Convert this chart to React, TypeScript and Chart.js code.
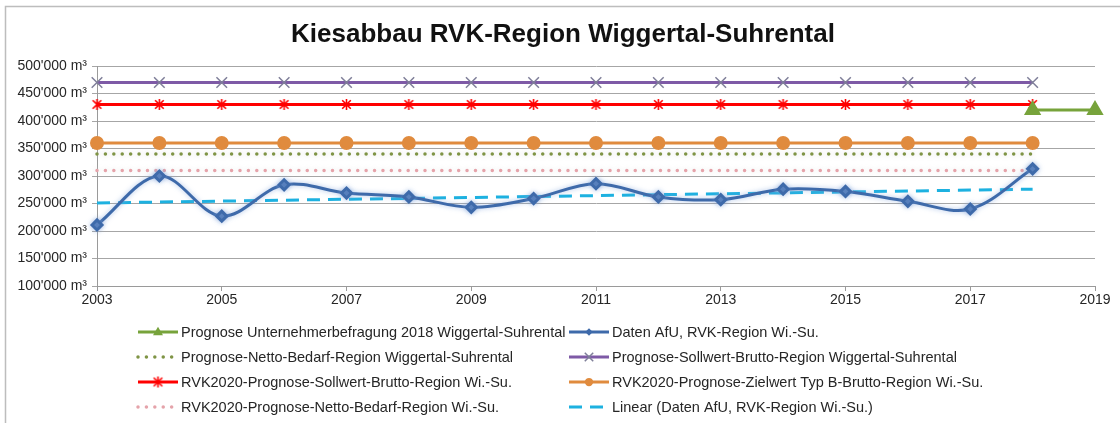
import React, { useEffect, useRef } from 'react';
import { Chart, registerables } from 'chart.js';

Chart.register(...registerables);

// ---------- data ----------
const years = [2003, 2004, 2005, 2006, 2007, 2008, 2009, 2010, 2011, 2012, 2013, 2014, 2015, 2016, 2017, 2018];
const datenAfU = [211000, 300000, 227000, 284000, 269000, 262000, 243000, 259000, 286000, 262000, 257000, 276000, 272000, 254000, 240000, 313000];
const sollwertBruttoWS = [470000, 470000, 470000, 470000, 470000, 470000, 470000, 470000, 470000, 470000, 470000, 470000, 470000, 470000, 470000, 470000];
const rvkSollwertBrutto = [430000, 430000, 430000, 430000, 430000, 430000, 430000, 430000, 430000, 430000, 430000, 430000, 430000, 430000, 430000, 430000];
const rvkZielwertTypB = [360000, 360000, 360000, 360000, 360000, 360000, 360000, 360000, 360000, 360000, 360000, 360000, 360000, 360000, 360000, 360000];
const nettoBedarfWS = [340000, 340000, 340000, 340000, 340000, 340000, 340000, 340000, 340000, 340000, 340000, 340000, 340000, 340000, 340000, 340000];
const rvkNettoBedarf = [310000, 310000, 310000, 310000, 310000, 310000, 310000, 310000, 310000, 310000, 310000, 310000, 310000, 310000, 310000, 310000];
const umfrageYears = [2018, 2019];
const umfrageValues = [420000, 420000];
const trendYears = [2003, 2018];
const trendValues = [251000, 276000];
const xTickYears = [2003, 2005, 2007, 2009, 2011, 2013, 2015, 2017, 2019];

const TITLE = 'Kiesabbau RVK-Region Wiggertal-Suhrental';
const FONT = "'Liberation Sans', Arial, sans-serif";

const C_GREEN = '#77A33B';
const C_BLUE = '#3E6AAA';
const C_OLIVE = '#7F9445';
const C_PURPLE = '#7E5AA6';
const C_RED = '#FF0000';
const C_ORANGE = '#E08B3E';
const C_PINK = '#E5A3AA';
const C_CYAN = '#1DB1E0';

function pts(xs: number[], ys: number[]) {
  return xs.map((x, i) => ({ x, y: ys[i] }));
}

function makeAsterisk(color: string, size: number) {
  const c = document.createElement('canvas');
  c.width = size;
  c.height = size;
  const g = c.getContext('2d')!;
  const m = size / 2;
  const r = size / 2 - 1;
  g.strokeStyle = color;
  g.lineWidth = 1.6;
  g.beginPath();
  g.moveTo(m, m - r);
  g.lineTo(m, m + r);
  const d = r * 0.78;
  g.moveTo(m - d, m - d);
  g.lineTo(m + d, m + d);
  g.moveTo(m - d, m + d);
  g.lineTo(m + d, m - d);
  g.stroke();
  return c;
}

function drawMarker(ctx: CanvasRenderingContext2D, style: any, x: number, y: number, r: number, fill: string, stroke: string) {
  ctx.save();
  ctx.fillStyle = fill;
  ctx.strokeStyle = stroke;
  ctx.lineWidth = 1.5;
  ctx.setLineDash([]);
  if (style instanceof HTMLCanvasElement) {
    ctx.drawImage(style, x - style.width / 2, y - style.height / 2);
  } else if (style === 'triangle') {
    ctx.beginPath();
    ctx.moveTo(x, y - r);
    ctx.lineTo(x + r * 0.95, y + r * 0.6);
    ctx.lineTo(x - r * 0.95, y + r * 0.6);
    ctx.closePath();
    ctx.fill();
  } else if (style === 'rectRot') {
    ctx.beginPath();
    ctx.moveTo(x, y - r);
    ctx.lineTo(x + r, y);
    ctx.lineTo(x, y + r);
    ctx.lineTo(x - r, y);
    ctx.closePath();
    ctx.fill();
  } else if (style === 'crossRot') {
    ctx.beginPath();
    ctx.moveTo(x - r * 0.75, y - r * 0.75);
    ctx.lineTo(x + r * 0.75, y + r * 0.75);
    ctx.moveTo(x - r * 0.75, y + r * 0.75);
    ctx.lineTo(x + r * 0.75, y - r * 0.75);
    ctx.stroke();
  } else if (style === 'circle') {
    ctx.beginPath();
    ctx.arc(x, y, r, 0, Math.PI * 2);
    ctx.fill();
  }
  ctx.restore();
}

export default function App() {
  const ref = useRef<HTMLCanvasElement | null>(null);

  useEffect(() => {
    document.body.style.margin = '0';
    const canvas = ref.current!;
    const asterisk = makeAsterisk(C_RED, 13);

    const legendPos = [
      { ds: 0, x0: 138, x1: 178, tx: 181, y: 332 },
      { ds: 1, x0: 569, x1: 609, tx: 612, y: 332 },
      { ds: 2, x0: 138, x1: 178, tx: 181, y: 357 },
      { ds: 3, x0: 569, x1: 609, tx: 612, y: 357 },
      { ds: 4, x0: 138, x1: 178, tx: 181, y: 382 },
      { ds: 5, x0: 569, x1: 609, tx: 612, y: 382 },
      { ds: 6, x0: 138, x1: 178, tx: 181, y: 407 },
      { ds: 7, x0: 569, x1: 609, tx: 612, y: 407 },
    ];

    const customPlugin = {
      id: 'custom',
      beforeDraw(chart: any) {
        const ctx = chart.ctx as CanvasRenderingContext2D;
        ctx.save();
        ctx.fillStyle = '#ffffff';
        ctx.fillRect(0, 0, chart.width, chart.height);
        ctx.strokeStyle = '#bdbdbd';
        ctx.lineWidth = 1.5;
        ctx.beginPath();
        ctx.moveTo(5.5, chart.height);
        ctx.lineTo(5.5, 6.5);
        ctx.lineTo(chart.width, 6.5);
        ctx.stroke();
        ctx.restore();
      },
      beforeDatasetDraw(chart: any, args: any) {
        const ctx = chart.ctx as CanvasRenderingContext2D;
        ctx.save();
        const ds = chart.data.datasets[args.index];
        if (ds.glow) {
          ctx.shadowColor = ds.glow;
          ctx.shadowBlur = 5;
        }
      },
      afterDatasetDraw(chart: any) {
        chart.ctx.restore();
      },
      afterDraw(chart: any) {
        const ctx = chart.ctx as CanvasRenderingContext2D;
        ctx.save();
        ctx.fillStyle = '#111111';
        ctx.font = `bold 26px ${FONT}`;
        ctx.textAlign = 'center';
        ctx.textBaseline = 'middle';
        ctx.fillText(TITLE, 563, 35);
        ctx.font = `14.5px ${FONT}`;
        ctx.textAlign = 'left';
        for (const p of legendPos) {
          const ds = chart.data.datasets[p.ds];
          ctx.save();
          ctx.strokeStyle = ds.borderColor;
          ctx.lineWidth = ds.borderWidth;
          ctx.lineCap = ds.borderCapStyle || 'butt';
          if (ds.borderDash) ctx.setLineDash(ds.borderDash);
          ctx.beginPath();
          ctx.moveTo(p.x0, p.y);
          ctx.lineTo(p.x1, p.y);
          ctx.stroke();
          ctx.restore();
          if (ds.pointRadius > 0) {
            drawMarker(ctx, ds.pointStyle, (p.x0 + p.x1) / 2, p.y, ds.pointRadius * 0.75, ds.pointBackgroundColor, ds.pointBorderColor);
          }
          ctx.fillStyle = '#262626';
          ctx.fillText(ds.label, p.tx, p.y + 1);
        }
        ctx.restore();
      },
    };

    const dotted = [0.01, 8.4];

    const chart = new Chart(canvas, {
      type: 'line',
      data: {
        datasets: [
          {
            label: 'Prognose Unternehmerbefragung 2018 Wiggertal-Suhrental',
            data: pts(umfrageYears, umfrageValues),
            borderColor: C_GREEN,
            borderWidth: 3,
            pointStyle: 'triangle',
            pointRadius: 7,
            pointBackgroundColor: C_GREEN,
            pointBorderColor: C_GREEN,
            order: 0,
          },
          {
            label: 'Daten AfU, RVK-Region Wi.-Su.',
            data: pts(years, datenAfU),
            borderColor: C_BLUE,
            borderWidth: 3,
            tension: 0.35,
            pointStyle: 'rectRot',
            pointRadius: 5,
            pointBackgroundColor: C_BLUE,
            pointBorderColor: C_BLUE,
            glow: 'rgba(130,165,220,0.65)',
            order: 1,
          },
          {
            label: 'Prognose-Netto-Bedarf-Region Wiggertal-Suhrental',
            data: pts(years, nettoBedarfWS),
            borderColor: C_OLIVE,
            borderWidth: 3.5,
            borderDash: dotted,
            borderCapStyle: 'round',
            pointRadius: 0,
            glow: 'rgba(200,200,200,0.7)',
            order: 6,
          },
          {
            label: 'Prognose-Sollwert-Brutto-Region Wiggertal-Suhrental',
            data: pts(years, sollwertBruttoWS),
            borderColor: C_PURPLE,
            borderWidth: 3,
            pointStyle: 'crossRot',
            pointRadius: 7.5,
            pointBorderWidth: 1.5,
            pointBackgroundColor: '#7F7F99',
            pointBorderColor: '#7F7F99',
            order: 3,
          },
          {
            label: 'RVK2020-Prognose-Sollwert-Brutto-Region Wi.-Su.',
            data: pts(years, rvkSollwertBrutto),
            borderColor: C_RED,
            borderWidth: 3,
            pointStyle: asterisk,
            pointRadius: 6,
            pointBackgroundColor: C_RED,
            pointBorderColor: C_RED,
            order: 4,
          },
          {
            label: 'RVK2020-Prognose-Zielwert Typ B-Brutto-Region Wi.-Su.',
            data: pts(years, rvkZielwertTypB),
            borderColor: C_ORANGE,
            borderWidth: 3,
            pointStyle: 'circle',
            pointRadius: 5.5,
            pointBackgroundColor: C_ORANGE,
            pointBorderColor: C_ORANGE,
            order: 5,
          },
          {
            label: 'RVK2020-Prognose-Netto-Bedarf-Region Wi.-Su.',
            data: pts(years, rvkNettoBedarf),
            borderColor: C_PINK,
            borderWidth: 3.5,
            borderDash: dotted,
            borderCapStyle: 'round',
            pointRadius: 0,
            glow: 'rgba(215,215,215,0.7)',
            order: 7,
          },
          {
            label: 'Linear (Daten AfU, RVK-Region Wi.-Su.)',
            data: pts(trendYears, trendValues),
            borderColor: C_CYAN,
            borderWidth: 3,
            borderDash: [13, 8],
            pointRadius: 0,
            order: 2,
          },
        ] as any,
      },
      options: {
        animation: false,
        responsive: false,
        maintainAspectRatio: false,
        clip: false as any,
        layout: { padding: { left: 0, right: 25, top: 66, bottom: 0 } },
        plugins: {
          legend: { display: false },
          title: { display: false },
          tooltip: { enabled: false },
        },
        scales: {
          x: {
            type: 'linear',
            min: 2003,
            max: 2019,
            afterBuildTicks: (s: any) => {
              s.ticks = xTickYears.map((v) => ({ value: v }));
            },
            afterFit: (s: any) => {
              s.height = 137;
            },
            ticks: {
              callback: (v: any) => String(v),
              font: { family: FONT, size: 14 },
              color: '#262626',
              padding: 1,
              maxRotation: 0,
              autoSkip: false,
            },
            grid: { drawOnChartArea: false, drawTicks: true, tickLength: 5, color: '#9a9a9a' },
            border: { color: '#9a9a9a', width: 1 },
          },
          y: {
            type: 'linear',
            min: 100000,
            max: 500000,
            afterFit: (s: any) => {
              s.width = 97;
            },
            ticks: {
              stepSize: 50000,
              callback: (v: any) => `${Math.round(Number(v) / 1000)}'000 m³`,
              font: { family: FONT, size: 14 },
              color: '#262626',
              padding: 5,
            },
            grid: { color: '#a6a6a6', lineWidth: 1, tickLength: 5 },
            border: { color: '#9a9a9a', width: 1 },
          },
        },
      } as any,
      plugins: [customPlugin],
    });

    return () => chart.destroy();
  }, []);

  return (
    <div style={{ position: 'relative', width: 1120, height: 423, background: '#fff' }}>
      <canvas ref={ref} width={1120} height={423} style={{ display: 'block', width: 1120, height: 423 }} />
    </div>
  );
}
